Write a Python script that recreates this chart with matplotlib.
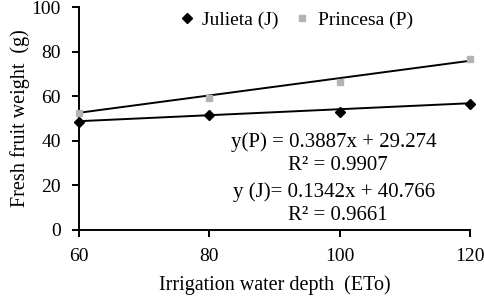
import numpy as np
import matplotlib
matplotlib.use("Agg")
import matplotlib.pyplot as plt

plt.rcParams["font.family"] = ["Liberation Serif", "DejaVu Serif"]

# data
depth = [60, 80, 100, 120]
julieta = [48.3, 51.5, 52.9, 56.4]
princesa = [52.3, 59.3, 66.5, 76.5]

# trendline coefficients as printed on the chart
slope_p, icpt_p, r2_p = 0.3887, 29.274, 0.9907
slope_j, icpt_j, r2_j = 0.1342, 40.766, 0.9661

fig = plt.figure(figsize=(4.85, 2.96), dpi=100)
ax = fig.add_axes([0.163, 0.223, 0.806, 0.753])

xs = np.array([depth[0], depth[-1]])
ax.plot(xs, slope_p * xs + icpt_p, color="black", lw=1.4, zorder=2)
ax.plot(xs, slope_j * xs + icpt_j, color="black", lw=1.4, zorder=2)
ax.plot(depth, julieta, ls="none", marker="D", ms=5.5, color="black",
        label="Julieta (J)", zorder=3, clip_on=False)
ax.plot(depth, princesa, ls="none", marker="s", ms=5, color="#b4b4b4",
        label="Princesa (P)", zorder=3, clip_on=False)

ax.set_xlim(60, 120)
ax.set_ylim(0, 100)
ax.set_xticks([60, 80, 100, 120])
ax.set_yticks([0, 20, 40, 60, 80, 100])
for s in ["top", "right"]:
    ax.spines[s].set_visible(False)
for s in ["left", "bottom"]:
    ax.spines[s].set_linewidth(1.4)
ax.tick_params(direction="out", length=5, width=1.4, labelsize=14, pad=8)

ax.set_xlabel("Irrigation water depth  (ETo)", fontsize=14.5, labelpad=7)
ax.set_ylabel("Fresh fruit weight  (g)", fontsize=14.5, labelpad=1)

ax.legend(loc="upper center", bbox_to_anchor=(0.555, 1.06), ncol=2,
          frameon=False, fontsize=14, handlelength=0.8, handletextpad=0.4,
          columnspacing=0.8, markerscale=0.9)

fs = 15
tx = 0.652
ax.text(tx, 0.395, f"y(P) = {slope_p}x + {icpt_p}", transform=ax.transAxes,
        ha="center", va="center", fontsize=fs)
ax.text(tx + 0.01, 0.291, f"R² = {r2_p}", transform=ax.transAxes,
        ha="center", va="center", fontsize=fs)
ax.text(tx, 0.170, f"y (J)= {slope_j}x + {icpt_j}", transform=ax.transAxes,
        ha="center", va="center", fontsize=fs)
ax.text(tx + 0.01, 0.067, f"R² = {r2_j}", transform=ax.transAxes,
        ha="center", va="center", fontsize=fs)

fig.savefig("out.png", dpi=100)
